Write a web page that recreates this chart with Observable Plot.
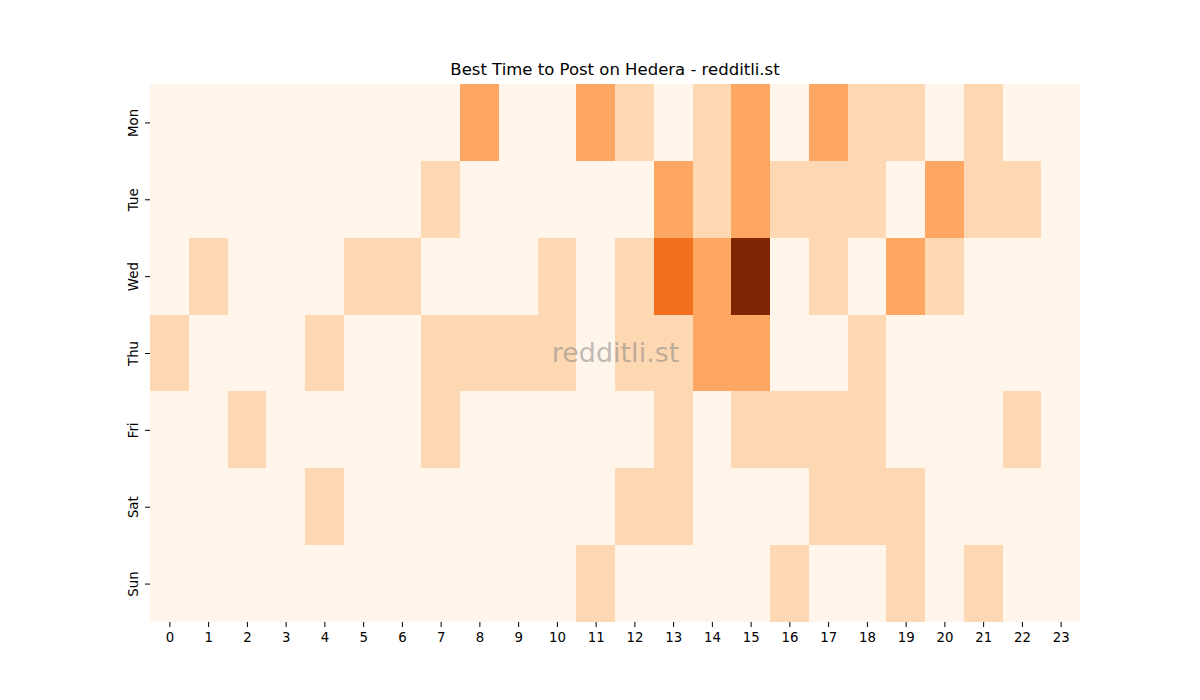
<!DOCTYPE html>
<html>
<head>
<meta charset="utf-8">
<script src="https://cdn.jsdelivr.net/npm/d3@7"></script>
<script src="https://cdn.jsdelivr.net/npm/@observablehq/plot@0.6"></script>
<style>
  html, body { margin: 0; padding: 0; background: #fff; }
  body { width: 1200px; height: 700px; overflow: hidden; font-family: "DejaVu Sans", sans-serif; }
  #title { box-sizing: border-box; width: 1200px; height: 80px; padding: 61px 120px 0 150px; text-align: center; font-size: 16.5px; line-height: 18px; color: #000; }
  #chart svg { display: block; }
</style>
</head>
<body>
<div id="title">Best Time to Post on Hedera - redditli.st</div>
<div id="chart"></div>
<script>
const days = ["Mon", "Tue", "Wed", "Thu", "Fri", "Sat", "Sun"];
const hours = d3.range(24);
const mon = [0,0,0,0,0,0,0,0,2,0,0,2,1,0,1,2,0,2,1,1,0,1,0,0];
const tue = [0,0,0,0,0,0,0,1,0,0,0,0,0,2,1,2,1,1,1,0,2,1,1,0];
const wed = [0,1,0,0,0,1,1,0,0,0,1,0,1,3,2,5,0,1,0,2,1,0,0,0];
const thu = [1,0,0,0,1,0,0,1,1,1,1,0,1,1,2,2,0,0,1,0,0,0,0,0];
const fri = [0,0,1,0,0,0,0,1,0,0,0,0,0,1,0,1,1,1,1,0,0,0,1,0];
const sat = [0,0,0,0,1,0,0,0,0,0,0,0,1,1,0,0,0,1,1,1,0,0,0,0];
const sun = [0,0,0,0,0,0,0,0,0,0,0,1,0,0,0,0,1,0,0,1,0,1,0,0];
const rows = [mon, tue, wed, thu, fri, sat, sun];

const cells = [];
days.forEach((d, i) => hours.forEach(h => cells.push({day: d, hour: h, value: rows[i][h]})));

const plot = Plot.plot({
  width: 1200,
  height: 620,
  marginTop: 4,
  marginBottom: 78,
  marginLeft: 150,
  marginRight: 120,
  style: {fontFamily: "DejaVu Sans, sans-serif", fontSize: "13.3px", color: "#000", background: "transparent"},
  x: {type: "band", domain: hours, padding: 0, round: false, label: null},
  y: {type: "band", domain: days, padding: 0, round: false, label: null},
  color: {type: "linear", domain: [0, 5], interpolate: d3.interpolateOranges},
  marks: [
    Plot.cell(cells, {x: "hour", y: "day", fill: "value", shapeRendering: "crispEdges"}),
    Plot.axisX({ticks: hours, tickSize: 5, tickPadding: 5, fontSize: 13.3, stroke: "#000", fill: "#000"}),
    Plot.axisY({ticks: days, tickSize: 5, tickPadding: 8, tickRotate: -90, fontSize: 13.3, stroke: "#000", fill: "#000"}),
    Plot.text(["redditli.st"], {frameAnchor: "middle", text: d => d, fontSize: 27, fill: "#808080", fillOpacity: 0.5})
  ]
});
document.getElementById("chart").appendChild(plot);
</script>
</body>
</html>
